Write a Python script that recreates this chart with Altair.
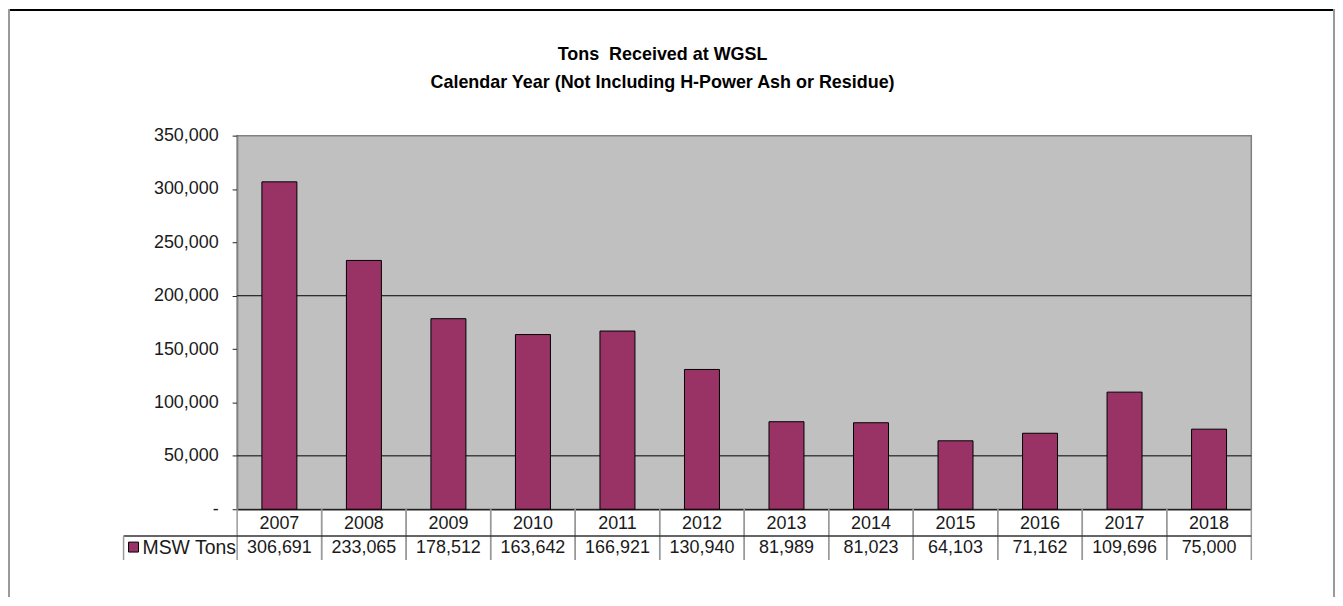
import altair as alt
import pandas as pd

# ---- data ----
years = ["2007", "2008", "2009", "2010", "2011", "2012",
         "2013", "2014", "2015", "2016", "2017", "2018"]
tons = [306691, 233065, 178512, 163642, 166921, 130940,
        81989, 81023, 64103, 71162, 109696, 75000]
series_name = "MSW Tons"
grid_values = [50000, 200000]
y_ticks = [0, 50000, 100000, 150000, 200000, 250000, 300000, 350000]
title_lines = ["Tons\u00a0 Received at WGSL",
               "Calendar Year (Not Including H-Power Ash or Residue)"]

df = pd.DataFrame({"year": years, "tons": tons})
grid_df = pd.DataFrame({"v": grid_values})
one = pd.DataFrame({"a": [0]})
legend_df = pd.DataFrame({"name": [series_name]})

W, H = 1018, 375
PAD_L, PAD_T, PAD_R, PAD_B = 230, 127, 84, 88
FONT = "Liberation Sans"
BAR = "#993366"
FS = 18

x_enc = alt.X("year:N", sort=years,
              scale=alt.Scale(paddingInner=0, paddingOuter=0),
              axis=alt.Axis(labels=False, ticks=False, title=None,
                            domainColor="#222222", domainWidth=1.5))
y_scale = alt.Scale(domain=[0, 350000], nice=False)

grid = alt.Chart(grid_df).mark_rule(color="black", strokeWidth=1).encode(
    y=alt.Y("v:Q", scale=y_scale)
)

bars = alt.Chart(df).mark_bar(
    fill=BAR, stroke="black", strokeWidth=1,
    width=alt.RelativeBandSize(0.414)
).encode(
    x=x_enc,
    y=alt.Y("tons:Q", scale=y_scale, title=None,
            axis=alt.Axis(values=y_ticks,
                          labelExpr="datum.value == 0 ? '-\u00a0\u00a0' : format(datum.value, ',')",
                          labelFont=FONT, labelFontSize=FS, labelColor="#1a1a1a",
                          labelPadding=14, tickSize=5, tickColor="#222222",
                          domainColor="#808080", domainWidth=1.5, grid=False))
)

# data table: year row and value row
year_text = alt.Chart(df).mark_text(
    font=FONT, fontSize=FS, color="#1a1a1a", baseline="middle", align="center"
).encode(
    x=alt.X("year:N", sort=years),
    y=alt.value(390),
    text="year:N",
)
value_text = alt.Chart(df).mark_text(
    font=FONT, fontSize=FS, color="#1a1a1a", baseline="middle", align="center"
).encode(
    x=alt.X("year:N", sort=years),
    y=alt.value(414),
    text=alt.Text("tons:Q", format=","),
)
sep_left = alt.Chart(df).mark_rule(color="#9a9a9a", strokeWidth=1.5).encode(
    x=alt.X("year:N", sort=years, bandPosition=0),
    y=alt.value(375), y2=alt.value(426),
)
sep_right = alt.Chart(df).mark_rule(color="#9a9a9a", strokeWidth=1.5).encode(
    x=alt.X("year:N", sort=years, bandPosition=1),
    y=alt.value(375), y2=alt.value(426),
)
row_line = alt.Chart(one).mark_rule(color="#333333", strokeWidth=1.5).encode(
    x=alt.value(-114), x2=alt.value(W), y=alt.value(402),
)
legend_sep = alt.Chart(one).mark_rule(color="#9a9a9a", strokeWidth=1.5).encode(
    x=alt.value(-114), y=alt.value(402), y2=alt.value(426),
)
legend_swatch = alt.Chart(legend_df).mark_rect(
    fill=BAR, stroke="black", strokeWidth=1
).encode(
    x=alt.value(-109), x2=alt.value(-99), y=alt.value(408), y2=alt.value(418),
)
legend_text = alt.Chart(legend_df).mark_text(
    font=FONT, fontSize=19.5, color="#1a1a1a", baseline="middle", align="left"
).encode(
    x=alt.value(-95), y=alt.value(414), text="name:N",
)

# outer frame of the chart object
frame_top = alt.Chart(one).mark_rule(color="black", strokeWidth=2).encode(
    x=alt.value(-PAD_L), x2=alt.value(W + PAD_R - 1), y=alt.value(-PAD_T + 1),
)
frame_left = alt.Chart(one).mark_rule(color="#9a9a9a", strokeWidth=2).encode(
    x=alt.value(-PAD_L + 1), y=alt.value(-PAD_T), y2=alt.value(H + PAD_B),
)
frame_right = alt.Chart(one).mark_rule(color="#9a9a9a", strokeWidth=2).encode(
    x=alt.value(W + PAD_R - 1), y=alt.value(-PAD_T), y2=alt.value(H + PAD_B),
)

chart = alt.layer(
    grid, bars, sep_left, sep_right, year_text, value_text,
    row_line, legend_sep, legend_swatch, legend_text,
    frame_top, frame_left, frame_right,
).properties(
    width=W, height=H,
    autosize=alt.AutoSizeParams(type="none"),
    padding={"left": PAD_L, "top": PAD_T, "right": PAD_R, "bottom": PAD_B},
    background="white",
    title=alt.TitleParams(
        text=title_lines, font=FONT, fontSize=18, fontWeight="bold",
        color="black", anchor="middle", dx=-82, offset=-102, lineHeight=28,
        baseline="bottom",
    ),
).configure_view(
    fill="#C0C0C0", stroke="#808080", strokeWidth=1.5
)

chart.save("out.html", embed_options={"renderer": "svg", "actions": False})
